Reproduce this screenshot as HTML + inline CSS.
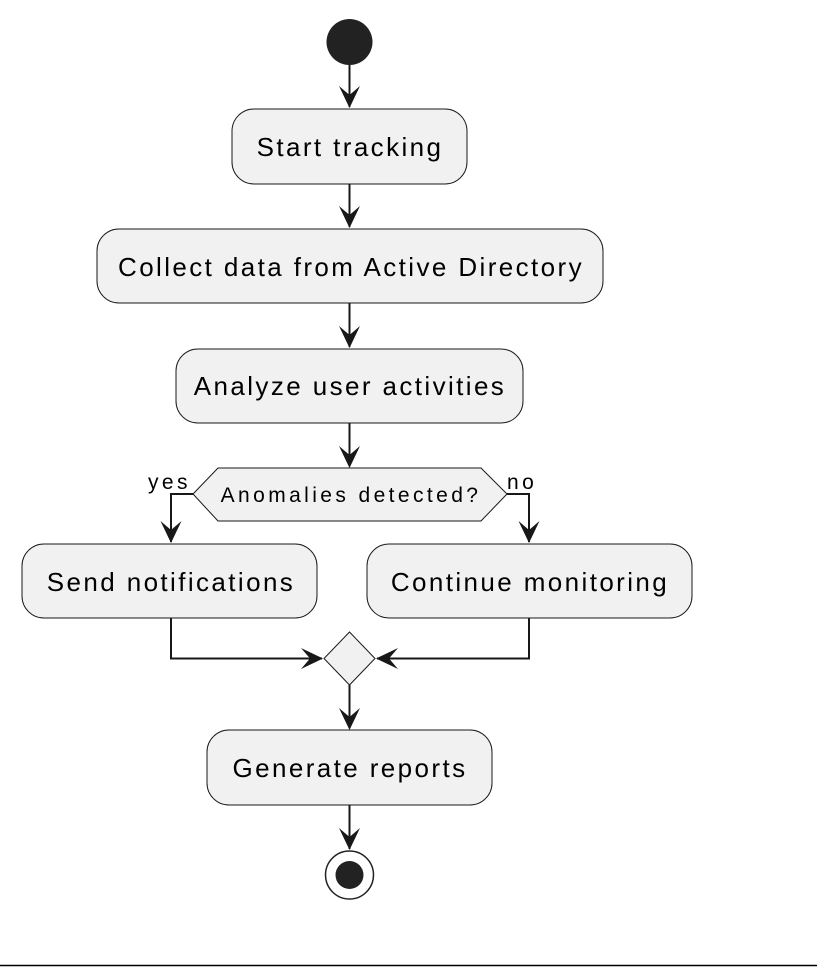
<!DOCTYPE html>
<html><head><style>body{margin:0;background:#fff}svg{display:block}</style></head><body>
<svg width="817" height="967" xmlns="http://www.w3.org/2000/svg" font-family="Liberation Sans, sans-serif">
<g fill="#f1f1f1" stroke="#181818" stroke-width="1">
<rect x="232" y="109" width="235" height="75" rx="22"/>
<rect x="97" y="229" width="506" height="74" rx="22"/>
<rect x="176" y="349" width="347" height="74" rx="22"/>
<polygon points="193,494 218,468 481,468 507,494 481,521 218,521"/>
<rect x="22" y="544" width="295" height="74" rx="22"/>
<rect x="367" y="544" width="325" height="74" rx="22"/>
<polygon points="349.5,632 375,658.5 349.5,685 324,658.5"/>
<rect x="207" y="730" width="285" height="75" rx="22"/>
</g>
<circle cx="349.5" cy="42" r="23" fill="#222"/>
<circle cx="349.5" cy="875" r="24" fill="none" stroke="#222" stroke-width="1.5"/>
<circle cx="349.5" cy="875" r="14" fill="#222"/>
<g stroke="#181818" stroke-width="2" fill="none">
<line x1="349.5" y1="65" x2="349.5" y2="107"/>
<line x1="349.5" y1="184" x2="349.5" y2="227"/>
<line x1="349.5" y1="303" x2="349.5" y2="347"/>
<line x1="349.5" y1="423" x2="349.5" y2="466"/>
<polyline points="193,494 171,494 171,542"/>
<polyline points="507,494 529,494 529,542"/>
<polyline points="171,618 171,658.5 322,658.5"/>
<polyline points="529,618 529,658.5 377,658.5"/>
<line x1="349.5" y1="685" x2="349.5" y2="728"/>
<line x1="349.5" y1="805" x2="349.5" y2="849"/>
</g>
<g fill="#181818">
<polygon points="339,86 349.5,108 360,86 349.5,95"/>
<polygon points="339,206 349.5,228 360,206 349.5,215"/>
<polygon points="339,326 349.5,348 360,326 349.5,335"/>
<polygon points="339,446 349.5,468 360,446 349.5,455"/>
<polygon points="160.5,521 171,543 181.5,521 171,530"/>
<polygon points="518.5,521 529,543 539.5,521 529,530"/>
<polygon points="339,708 349.5,730 360,708 349.5,717"/>
<polygon points="339,828 349.5,850 360,828 349.5,837"/>
<polygon points="301,648 323,658.5 301,669 310,658.5"/>
<polygon points="398,648 376,658.5 398,669 389,658.5"/>
</g>
<g font-size="26" fill="#000" letter-spacing="2.4" text-anchor="middle">
<text x="350" y="156">Start tracking</text>
<text x="351" y="276">Collect data from Active Directory</text>
<text x="350" y="395">Analyze user activities</text>
<text x="171" y="591">Send notifications</text>
<text x="530" y="591">Continue monitoring</text>
<text x="350" y="777">Generate reports</text>
</g>
<g font-size="21" fill="#000" letter-spacing="3.4">
<text x="351" y="502" text-anchor="middle">Anomalies detected?</text>
<text x="148" y="489">yes</text>
<text x="507" y="489">no</text>
</g>
<line x1="0" y1="965.5" x2="817" y2="965.5" stroke="#000" stroke-width="1.5"/>
</svg>
</body></html>
